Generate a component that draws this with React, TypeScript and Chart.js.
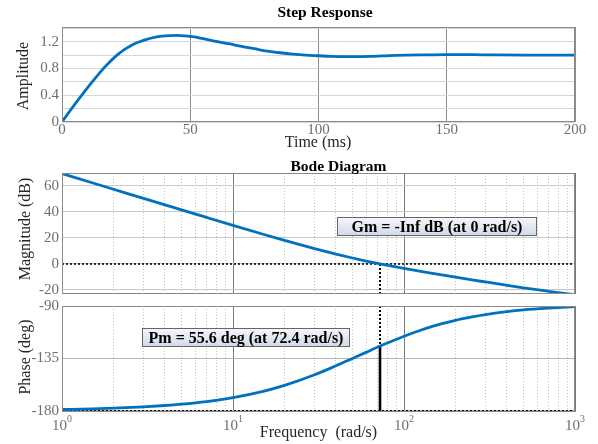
import React, { useEffect, useRef } from 'react';
import { Chart, registerables } from 'chart.js';

Chart.register(...registerables);

// ---------- data ----------
const STEP_T = [0, 3, 6, 9, 12, 15, 18, 21, 24, 27, 30, 33, 36, 39, 42, 45, 48, 51, 55, 60, 65, 70, 75, 80, 85, 90, 95, 100, 105, 110, 115, 120, 125, 130, 140, 150, 160, 170, 180, 190, 200];
const STEP_AMP = [0, 0.16, 0.315, 0.465, 0.61, 0.75, 0.875, 0.985, 1.075, 1.145, 1.195, 1.235, 1.265, 1.283, 1.292, 1.294, 1.287, 1.275, 1.245, 1.205, 1.17, 1.13, 1.095, 1.06, 1.035, 1.015, 1.0, 0.99, 0.98, 0.976, 0.976, 0.98, 0.988, 0.995, 1.003, 1.008, 1.006, 1.003, 1.001, 1.0, 1.0];
const STEP_X_TICKS = [0, 50, 100, 150, 200];
const STEP_Y_TICKS = [0, 0.2, 0.4, 0.6, 0.8, 1.0, 1.2, 1.4];
const STEP_Y_LABELED = [0, 0.4, 0.8, 1.2];

const FREQ = [1, 1.5, 2, 3, 4, 5, 7, 10, 15, 20, 30, 40, 50, 60, 72.4, 85, 100, 130, 150, 200, 250, 300, 400, 500, 700, 1000];
const MAG_DB = [69.54, 62.5, 57.51, 50.47, 45.49, 41.62, 35.82, 29.71, 22.87, 18.14, 11.8, 7.61, 4.59, 2.28, 0.06, -1.74, -3.47, -6.12, -7.5, -10.19, -12.23, -13.86, -16.41, -18.38, -21.0, -23.6];
const PHASE_DEG = [-178.85, -178.28, -177.71, -176.57, -175.43, -174.29, -172.03, -168.69, -163.3, -158.2, -149.04, -141.34, -135.0, -129.81, -124.4, -120.2, -116.0, -110.0, -107.0, -102.3, -99.4, -97.4, -94.8, -93.3, -91.8, -90.6];
const FREQ_TICKS = [1, 2, 3, 4, 5, 6, 7, 8, 9, 10, 20, 30, 40, 50, 60, 70, 80, 90, 100, 200, 300, 400, 500, 600, 700, 800, 900, 1000];
const FREQ_DECADES = [1, 10, 100, 1000];
const DECADE_EXP = ['0', '1', '2', '3'];
const MAG_TICKS = [-20, 0, 20, 40, 60];
const PHASE_TICKS = [-180, -135, -90];

const WC = 72.4; // gain crossover (rad/s)
const PM = 55.6; // phase margin (deg)
const MAG_MIN = -23.1;
const MAG_MAX = 70;
const PH_MIN = -181;
const PH_MAX = -90;

const GM_TEXT = 'Gm = -Inf dB (at 0 rad/s)';
const PM_TEXT = 'Pm = 55.6 deg (at 72.4 rad/s)';

// ---------- style ----------
const FONT = "'Liberation Serif', 'Times New Roman', serif";
const TICK_COLOR = '#6e6e6e';
const LABEL_COLOR = '#262626';
const BLUE = '#0072BD';
const W = 598;
const H = 444;

const isDecade = (v: number) => FREQ_DECADES.indexOf(v) >= 0;

type TextItem = { text: string; x: number; y: number; size: number; bold?: boolean; color: string; rotate?: boolean };

function textPlugin(items: TextItem[]) {
  return {
    id: 'texts',
    afterDraw(chart: any) {
      const ctx = chart.ctx;
      for (const it of items) {
        ctx.save();
        ctx.font = `${it.bold ? 'bold ' : ''}${it.size}px ${FONT}`;
        ctx.fillStyle = it.color;
        ctx.textAlign = 'center';
        ctx.textBaseline = 'alphabetic';
        ctx.translate(it.x, it.y);
        if (it.rotate) ctx.rotate(-Math.PI / 2);
        ctx.fillText(it.text, 0, 0);
        ctx.restore();
      }
    },
  };
}

const framePlugin = {
  id: 'frame',
  afterDatasetsDraw(chart: any) {
    const { ctx, chartArea: a } = chart;
    ctx.save();
    ctx.strokeStyle = '#8a8a8a';
    ctx.lineWidth = 1;
    const l = Math.round(a.left) + 0.5;
    const t = Math.round(a.top) + 0.5;
    const r = Math.round(a.right) - 0.5;
    const b = Math.round(a.bottom) - 0.5;
    ctx.strokeRect(l, t, r - l, b - t);
    ctx.restore();
  },
};

function boxPlugin(x: number, y: number, w: number, h: number, text: string) {
  return {
    id: 'box' + text.length,
    afterDraw(chart: any) {
      const ctx = chart.ctx;
      ctx.save();
      const g = ctx.createLinearGradient(0, y, 0, y + h);
      g.addColorStop(0, '#f6f8fb');
      g.addColorStop(1, '#cfd9e6');
      ctx.fillStyle = g;
      ctx.fillRect(x, y, w, h);
      ctx.strokeStyle = '#666';
      ctx.lineWidth = 1;
      ctx.strokeRect(x + 0.5, y + 0.5, w - 1, h - 1);
      ctx.font = `bold 16px ${FONT}`;
      ctx.fillStyle = '#000';
      ctx.textAlign = 'center';
      ctx.textBaseline = 'alphabetic';
      ctx.fillText(text, x + w / 2, y + h - 4);
      ctx.restore();
    },
  };
}

const decadeLabelPlugin = {
  id: 'decades',
  afterDraw(chart: any) {
    const ctx = chart.ctx;
    const sx = chart.scales.x;
    ctx.save();
    ctx.fillStyle = TICK_COLOR;
    ctx.textBaseline = 'alphabetic';
    ctx.textAlign = 'left';
    FREQ_DECADES.forEach((v, i) => {
      const px = sx.getPixelForValue(v);
      ctx.font = `15px ${FONT}`;
      const w1 = ctx.measureText('10').width;
      ctx.font = `10px ${FONT}`;
      const w2 = ctx.measureText(DECADE_EXP[i]).width;
      const x0 = px - (w1 + w2) / 2;
      ctx.font = `15px ${FONT}`;
      ctx.fillText('10', x0, 430);
      ctx.font = `10px ${FONT}`;
      ctx.fillText(DECADE_EXP[i], x0 + w1, 421.5);
    });
    ctx.restore();
  },
};

const pts = (xs: number[], ys: number[]) => xs.map((x, i) => ({ x, y: ys[i] }));

const tickFont = { family: FONT, size: 15 };

function logXScale() {
  return {
    type: 'logarithmic',
    min: 1,
    max: 1000,
    afterBuildTicks: (s: any) => {
      s.ticks = FREQ_TICKS.map((v) => ({ value: v, major: isDecade(v) }));
    },
    afterFit: (s: any) => {
      s.height = 0;
    },
    ticks: { display: false, autoSkip: false },
    grid: {
      drawTicks: false,
      color: (c: any) => (c.tick && isDecade(c.tick.value) ? '#7a7a7a' : '#c4c4c4'),
      lineWidth: 1,
    },
    border: {
      display: false,
      dash: (c: any) => (c.tick && isDecade(c.tick.value) ? [] : [1, 2]),
    },
  };
}

function yScale(min: number, max: number, ticks: number[], labeled: number[] | null, gridColor: string) {
  return {
    type: 'linear',
    min,
    max,
    afterBuildTicks: (s: any) => {
      s.ticks = ticks.map((v) => ({ value: v }));
    },
    afterFit: (s: any) => {
      s.width = 40;
    },
    ticks: {
      autoSkip: false,
      color: TICK_COLOR,
      font: tickFont,
      padding: 3,
      callback: (v: any) => {
        const n = Number(v);
        if (labeled && !labeled.some((l) => Math.abs(l - n) < 1e-9)) return '';
        return String(Math.round(n * 10) / 10);
      },
    },
    grid: { drawTicks: false, color: gridColor, lineWidth: 1 },
    border: { display: false },
  };
}

const baseOptions = (padding: any) => ({
  responsive: false,
  animation: false,
  events: [],
  layout: { padding },
  plugins: { legend: { display: false }, tooltip: { enabled: false }, title: { display: false } },
});

const curveStyle = { borderColor: BLUE, borderWidth: 2.8, pointRadius: 0, cubicInterpolationMode: 'monotone', fill: false };

function makeStep(canvas: HTMLCanvasElement) {
  return new Chart(canvas, {
    type: 'line',
    data: {
      datasets: [{ data: pts(STEP_T, STEP_AMP), ...curveStyle }],
    },
    options: {
      ...baseOptions({ left: 22, right: 23, top: 27, bottom: 302 }),
      scales: {
        x: {
          type: 'linear',
          min: 0,
          max: 200,
          afterBuildTicks: (s: any) => {
            s.ticks = STEP_X_TICKS.map((v) => ({ value: v }));
          },
          afterFit: (s: any) => {
            s.height = 20;
          },
          ticks: { autoSkip: false, maxRotation: 0, color: TICK_COLOR, font: tickFont, padding: -1 },
          grid: { drawTicks: false, color: '#8c8c8c', lineWidth: 1 },
          border: { display: false },
        },
        y: yScale(0, 1.42, STEP_Y_TICKS, STEP_Y_LABELED, '#d6d6d6'),
      },
    } as any,
    plugins: [
      framePlugin,
      textPlugin([
        { text: 'Step Response', x: 325, y: 17, size: 15.5, bold: true, color: '#000' },
        { text: 'Time (ms)', x: 318, y: 147, size: 16, color: LABEL_COLOR },
        { text: 'Amplitude', x: 28, y: 76, size: 16, color: LABEL_COLOR, rotate: true },
      ]),
    ],
  } as any);
}

function makeMag(canvas: HTMLCanvasElement) {
  return new Chart(canvas, {
    type: 'line',
    data: {
      datasets: [
        { data: pts(FREQ, MAG_DB), ...curveStyle },
        { data: [{ x: 1, y: 0 }, { x: 1000, y: 0 }], borderColor: '#000', borderWidth: 1.6, borderDash: [2, 2], pointRadius: 0 },
        { data: [{ x: WC, y: 0 }, { x: WC, y: MAG_MIN }], borderColor: '#000', borderWidth: 2, borderDash: [2, 2], pointRadius: 0 },
      ],
    },
    options: {
      ...baseOptions({ left: 22, right: 23, top: 173, bottom: 150 }),
      scales: {
        x: logXScale(),
        y: yScale(MAG_MIN, MAG_MAX, MAG_TICKS, null, '#c8c8c8'),
      },
    } as any,
    plugins: [
      framePlugin,
      boxPlugin(337, 217, 200, 19, GM_TEXT),
      textPlugin([
        { text: 'Bode Diagram', x: 338.5, y: 170.5, size: 15.5, bold: true, color: '#000' },
        { text: 'Magnitude (dB)', x: 30, y: 229, size: 16, color: LABEL_COLOR, rotate: true },
      ]),
    ],
  } as any);
}

function makePhase(canvas: HTMLCanvasElement) {
  const phAtWc = -180 + PM;
  return new Chart(canvas, {
    type: 'line',
    data: {
      datasets: [
        { data: pts(FREQ, PHASE_DEG), ...curveStyle },
        { data: [{ x: 1, y: -180 }, { x: 1000, y: -180 }], borderColor: '#000', borderWidth: 1.6, borderDash: [2, 2], pointRadius: 0 },
        { data: [{ x: WC, y: PH_MAX }, { x: WC, y: phAtWc }], borderColor: '#000', borderWidth: 2, borderDash: [2, 2], pointRadius: 0 },
        { data: [{ x: WC, y: phAtWc }, { x: WC, y: -180 }], borderColor: '#000', borderWidth: 2.6, pointRadius: 0 },
      ],
    },
    options: {
      ...baseOptions({ left: 22, right: 23, top: 306, bottom: 32 }),
      scales: {
        x: logXScale(),
        y: yScale(PH_MIN, PH_MAX, PHASE_TICKS, null, '#b4b4b4'),
      },
    } as any,
    plugins: [
      framePlugin,
      boxPlugin(142, 328, 208, 19, PM_TEXT),
      decadeLabelPlugin,
      textPlugin([
        { text: 'Phase (deg)', x: 30, y: 357, size: 16, color: LABEL_COLOR, rotate: true },
        { text: 'Frequency  (rad/s)', x: 318.5, y: 437, size: 16, color: LABEL_COLOR },
      ]),
    ],
  } as any);
}

export default function App() {
  const r1 = useRef<HTMLCanvasElement>(null);
  const r2 = useRef<HTMLCanvasElement>(null);
  const r3 = useRef<HTMLCanvasElement>(null);

  useEffect(() => {
    const charts = [makeStep(r1.current!), makeMag(r2.current!), makePhase(r3.current!)];
    return () => charts.forEach((c) => c.destroy());
  }, []);

  const cs: React.CSSProperties = { position: 'absolute', left: 0, top: 0, width: W, height: H };
  return (
    <div style={{ position: 'fixed', left: 0, top: 0, width: W, height: H, background: '#fff' }}>
      <canvas ref={r1} width={W} height={H} style={cs} />
      <canvas ref={r2} width={W} height={H} style={cs} />
      <canvas ref={r3} width={W} height={H} style={cs} />
    </div>
  );
}
